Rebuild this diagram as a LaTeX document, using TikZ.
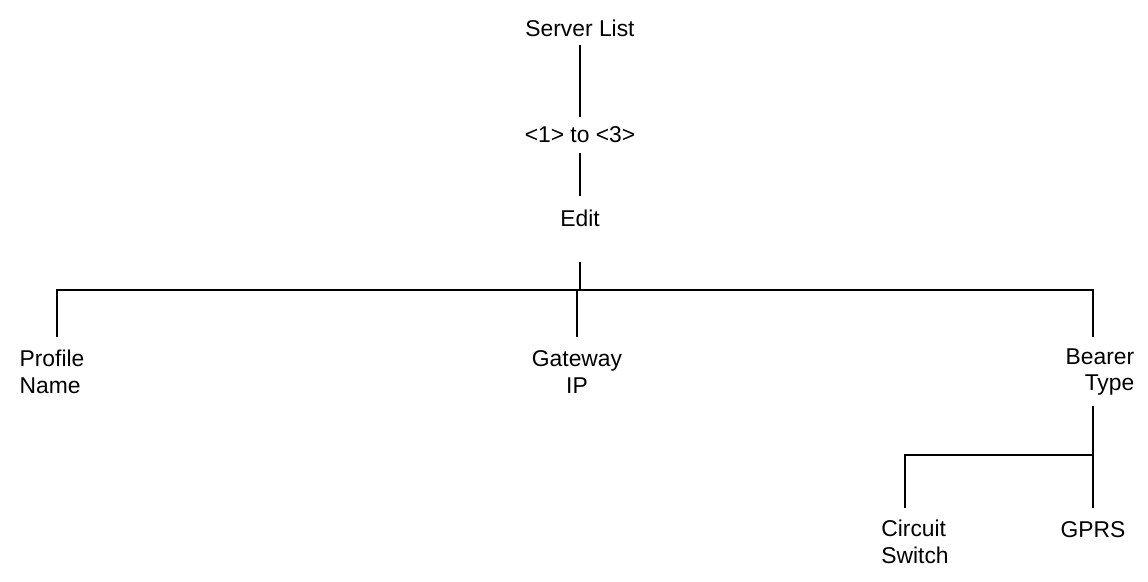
\documentclass[tikz,border=0pt]{standalone}
\usepackage{fontspec}
\setmainfont{Liberation Sans}
\usetikzlibrary{positioning}
\tikzset{
    lbl/.style={inner sep=1pt, align=center, font=\fontsize{13}{15}\selectfont},
    conn/.style={line width=1.2pt}
}
\begin{document}
\begin{tikzpicture}[x=0.02cm, y=-0.02cm]
                        \useasboundingbox (0, 0) rectangle (1148, 581);
                        \node[lbl] (list) at (580, 28) {Server List};
                        \node[lbl] (range) at (580, 135) {<1> to <3>};
                        \node[lbl] (edit) at (580, 218) {Edit};
                        \node[lbl, align=left] (profile) at (52, 372) {Profile\\Name};
                        \node[lbl] (gateway) at (577, 372) {Gateway\\IP};
                        \node[lbl, align=right] (bearer) at (1100, 372) {Bearer\\Type};
                        \node[lbl, align=left] (circuit) at (915, 542) {Circuit\\Switch};
                        \node[lbl] (gprs) at (1093, 530) {GPRS};
                        \coordinate (editbus) at (580, 290);
                        \coordinate (bearerbus) at (1093, 455);
                        \draw[conn]
                        (580, 45) -- (580, 117)
                        (580, 153) -- (580, 196)
                        (580, 262) -- (editbus)
                        (57, 337) -- (57, 290) -- (1093, 290) -- (1093, 337)
                        (577, 290) -- (577, 337)
                        (1093, 406) -- (1093, 508)
                        (905, 508) -- (905, 455) -- (bearerbus);
                    \end{tikzpicture}
\end{document}
